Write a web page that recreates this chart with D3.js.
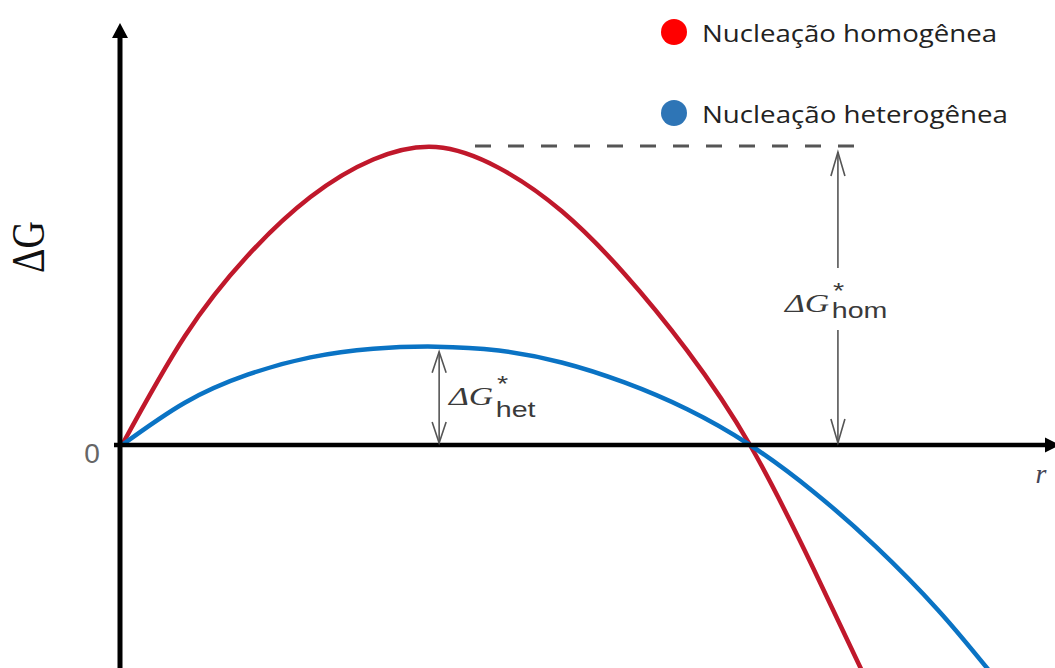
<!DOCTYPE html>
<html>
<head>
<meta charset="utf-8">
<script src="https://cdn.jsdelivr.net/npm/d3@7"></script>
<style>
  body { margin: 0; background: #fff; }
</style>
</head>
<body>
<div id="canvas"></div>
<script>
"use strict";

/* ===============================
   Data (r and ΔG in relative units,
   r = 1 where the curves cross zero, ΔG = 1 at the homogeneous peak) */
let rHom = [0, 0.1, 0.2, 0.3, 0.4, 0.5, 0.6, 0.7, 0.8, 0.9, 1.0, 1.1, 1.19];
let gHom = [0, 0.365, 0.635, 0.832, 0.958, 1.0, 0.93, 0.785, 0.575, 0.317, 0, -0.41, -0.81];

let rHet = [0, 0.1, 0.2, 0.3, 0.4, 0.5, 0.6, 0.7, 0.8, 0.9, 1.0, 1.1, 1.2, 1.3, 1.38];
let gHet = [0, 0.142, 0.236, 0.294, 0.323, 0.330, 0.317, 0.277, 0.21, 0.12, 0, -0.155, -0.34, -0.555, -0.755];

let legendLabels = ["Nucleação homogênea", "Nucleação heterogênea"];
let legendColors = ["#ff0000", "#2e75b6"];
let legendWidths = [295, 306];

/* ===============================
   Configuration */
let svgWidth = 1055;
let svgHeight = 668;

let svg = d3.select("#canvas")
  .append("svg")
  .attr("width", svgWidth)
  .attr("height", svgHeight);

let xScale = d3.scaleLinear().domain([0, 1]).range([122, 750]);
let yScale = d3.scaleLinear().domain([0, 1]).range([445, 147]);

let homColor = "#c0182b";
let hetColor = "#0a73c4";
let annoColor = "#555";
let labelColor = "#3a3a3a";

/* Curves */
let line = d3.line()
  .x(function (d) { return xScale(d[0]); })
  .y(function (d) { return yScale(d[1]); })
  .curve(d3.curveNatural);

let homData = d3.zip(rHom, gHom);
let hetData = d3.zip(rHet, gHet);

let homPeak = d3.max(gHom);
let hetPeak = d3.max(gHet);

/* Dashed line at the homogeneous barrier */
svg.append("line")
  .attr("x1", 475).attr("x2", 867)
  .attr("y1", yScale(homPeak) - 1).attr("y2", yScale(homPeak) - 1)
  .attr("stroke", annoColor)
  .attr("stroke-width", 3)
  .attr("stroke-dasharray", "16 17");

svg.append("path")
  .datum(homData)
  .attr("d", line)
  .attr("fill", "none")
  .attr("stroke", homColor)
  .attr("stroke-width", 4.5);

svg.append("path")
  .datum(hetData)
  .attr("d", line)
  .attr("fill", "none")
  .attr("stroke", hetColor)
  .attr("stroke-width", 4.5);

/* Axes with filled arrowheads */
let axisX = xScale(0) - 2;
svg.append("line")
  .attr("x1", axisX).attr("x2", axisX)
  .attr("y1", svgHeight).attr("y2", 36)
  .attr("stroke", "black").attr("stroke-width", 5);
svg.append("path")
  .attr("d", "M" + axisX + ",23 l-8,15 l16,0 z")
  .attr("fill", "black");

svg.append("line")
  .attr("x1", axisX - 6).attr("x2", 1046)
  .attr("y1", yScale(0)).attr("y2", yScale(0))
  .attr("stroke", "black").attr("stroke-width", 4.5);
svg.append("path")
  .attr("d", "M1060," + yScale(0) + " l-15,-7.5 l0,15 z")
  .attr("fill", "black");

/* Double-headed annotation arrows */
function chevron(x, y, dir, len) {
  // dir = -1 points up, 1 points down
  svg.append("path")
    .attr("d", "M" + (x - 7) + "," + (y - dir * len) + " L" + x + "," + y + " L" + (x + 7) + "," + (y - dir * len))
    .attr("fill", "none")
    .attr("stroke", annoColor)
    .attr("stroke-width", 1.6);
}

function vArrow(x, yTop, yBot, len, gapTop, gapBot) {
  let segs = gapTop === undefined ? [[yTop, yBot]] : [[yTop, gapTop], [gapBot, yBot]];
  segs.forEach(function (s) {
    svg.append("line")
      .attr("x1", x).attr("x2", x).attr("y1", s[0]).attr("y2", s[1])
      .attr("stroke", annoColor).attr("stroke-width", 1.6);
  });
  chevron(x, yTop, -1, len);
  chevron(x, yBot, 1, len);
}

let homArrowX = xScale(1.14);
let hetArrowX = xScale(0.505);
vArrow(homArrowX, yScale(homPeak) + 5, yScale(0) - 2, 24, 268, 330);
vArrow(hetArrowX, yScale(hetPeak) + 5, yScale(0) - 2, 21);

/* Annotation labels: ΔG with * superscript and subscript, one text each,
   widened a little like the source picture */
function starLabel(x, base, subDrop, sub) {
  let t = svg.append("text")
    .attr("transform", "translate(" + x + "," + base + ") scale(1.3,1)")
    .attr("fill", labelColor);
  t.append("tspan")
    .attr("x", 0).attr("y", 0)
    .attr("font-family", "Liberation Serif, Times New Roman, serif")
    .attr("font-style", "italic")
    .attr("font-size", 26)
    .text("ΔG");
  t.append("tspan")
    .attr("x", 37).attr("y", -14)
    .attr("font-family", "Liberation Sans, Arial, sans-serif")
    .attr("font-size", 22)
    .text("*");
  t.append("tspan")
    .attr("x", 36).attr("y", subDrop)
    .attr("font-family", "Liberation Sans, Arial, sans-serif")
    .attr("font-size", 22)
    .text(sub);
}
starLabel(785, 312, 6, "hom");
starLabel(449, 405, 12, "het");

/* Axis labels */
svg.append("text")
  .attr("x", 92).attr("y", 463)
  .attr("text-anchor", "middle")
  .attr("font-family", "Liberation Sans, Arial, sans-serif")
  .attr("font-size", 28)
  .attr("fill", "#666")
  .text("0");

svg.append("text")
  .attr("x", 1041).attr("y", 483)
  .attr("text-anchor", "middle")
  .attr("font-family", "Liberation Serif, Times New Roman, serif")
  .attr("font-style", "italic")
  .attr("font-size", 28)
  .attr("fill", "#445")
  .text("r");

svg.append("text")
  .attr("transform", "translate(44,247) scale(1.2,1) rotate(-90)")
  .attr("text-anchor", "middle")
  .attr("font-family", "Liberation Serif, Times New Roman, serif")
  .attr("font-size", 38)
  .attr("fill", "#111")
  .text("ΔG");

/* ===============================
   Legend */
for (let i = 0; i < legendLabels.length; i = i + 1) {
  let cy = 32 + i * 81;
  svg.append("circle")
    .attr("cx", 674).attr("cy", cy).attr("r", 13)
    .attr("fill", legendColors[i]);
  svg.append("text")
    .attr("x", 702).attr("y", cy + 10)
    .attr("font-family", "Open Sans, sans-serif")
    .attr("font-size", 24)
    .attr("fill", "#222")
    .attr("textLength", legendWidths[i])
    .attr("lengthAdjust", "spacingAndGlyphs")
    .text(legendLabels[i]);
}
</script>
</body>
</html>
